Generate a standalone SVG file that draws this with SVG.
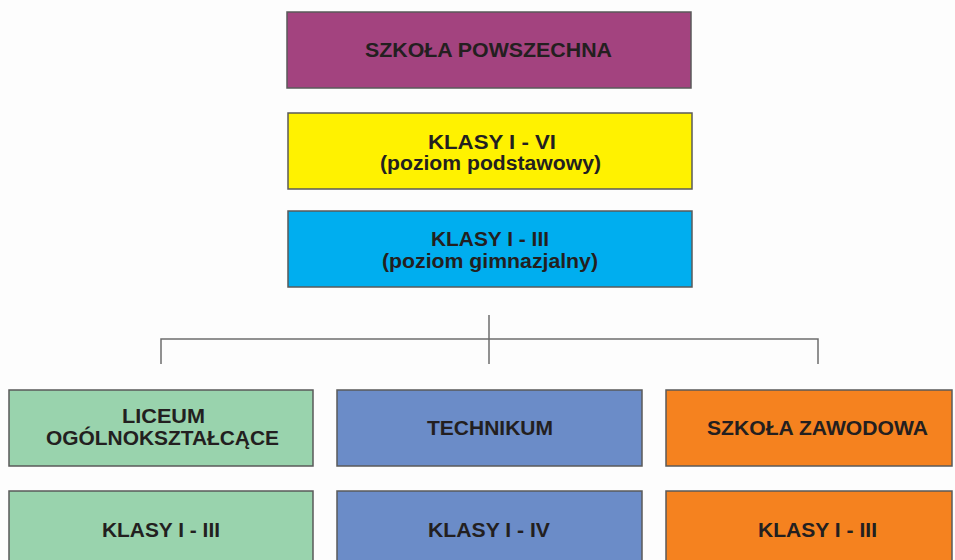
<svg xmlns="http://www.w3.org/2000/svg" width="955" height="560" viewBox="0 0 955 560">
<style>
.box{stroke:#5a5a5a;stroke-width:1.5}
.t{font-family:"Liberation Sans",Arial,sans-serif;font-weight:bold;font-size:19.5px;fill:#231f20}
.c{fill:none;stroke:#6d6d6d;stroke-width:1.5}
</style>
<rect width="955" height="560" fill="#fdfdfd"/>
<g id="connectors">
<path class="c" d="M489 315 V364 M161 364 V339 H818 V364"/>
</g>
<g id="szkola-powszechna">
<rect class="box" x="287" y="12" width="404" height="76" fill="#a3437f"/>
<text class="t" x="365" y="57" textLength="247" lengthAdjust="spacingAndGlyphs">SZKOŁA POWSZECHNA</text>
</g>
<g id="klasy-1-6">
<rect class="box" x="288" y="113" width="404" height="76" fill="#fff200"/>
<text class="t" x="428" y="149" textLength="128" lengthAdjust="spacingAndGlyphs">KLASY I - VI</text>
<text class="t" x="380" y="170" textLength="221" lengthAdjust="spacingAndGlyphs">(poziom podstawowy)</text>
</g>
<g id="klasy-1-3-gim">
<rect class="box" x="288" y="211" width="404" height="76" fill="#00aeef"/>
<text class="t" x="431" y="246" textLength="118" lengthAdjust="spacingAndGlyphs">KLASY I - III</text>
<text class="t" x="382" y="268" textLength="216" lengthAdjust="spacingAndGlyphs">(poziom gimnazjalny)</text>
</g>
<g id="liceum">
<rect class="box" x="9" y="390" width="304" height="76" fill="#99d3ad"/>
<text class="t" x="122" y="423" textLength="83" lengthAdjust="spacingAndGlyphs">LICEUM</text>
<text class="t" x="46" y="445" textLength="233" lengthAdjust="spacingAndGlyphs">OGÓLNOKSZTAŁCĄCE</text>
</g>
<g id="technikum">
<rect class="box" x="337" y="390" width="305" height="76" fill="#6b8cc8"/>
<text class="t" x="427" y="435" textLength="126" lengthAdjust="spacingAndGlyphs">TECHNIKUM</text>
</g>
<g id="zawodowa">
<rect class="box" x="666" y="390" width="286" height="76" fill="#f5821f"/>
<text class="t" x="707" y="435" textLength="221" lengthAdjust="spacingAndGlyphs">SZKOŁA ZAWODOWA</text>
</g>
<g id="liceum-klasy">
<rect class="box" x="9" y="491" width="304" height="80" fill="#99d3ad"/>
<text class="t" x="102" y="537" textLength="118" lengthAdjust="spacingAndGlyphs">KLASY I - III</text>
</g>
<g id="technikum-klasy">
<rect class="box" x="337" y="491" width="305" height="80" fill="#6b8cc8"/>
<text class="t" x="428" y="537" textLength="122" lengthAdjust="spacingAndGlyphs">KLASY I - IV</text>
</g>
<g id="zawodowa-klasy">
<rect class="box" x="666" y="491" width="286" height="80" fill="#f5821f"/>
<text class="t" x="758" y="537" textLength="119" lengthAdjust="spacingAndGlyphs">KLASY I - III</text>
</g>
</svg>
